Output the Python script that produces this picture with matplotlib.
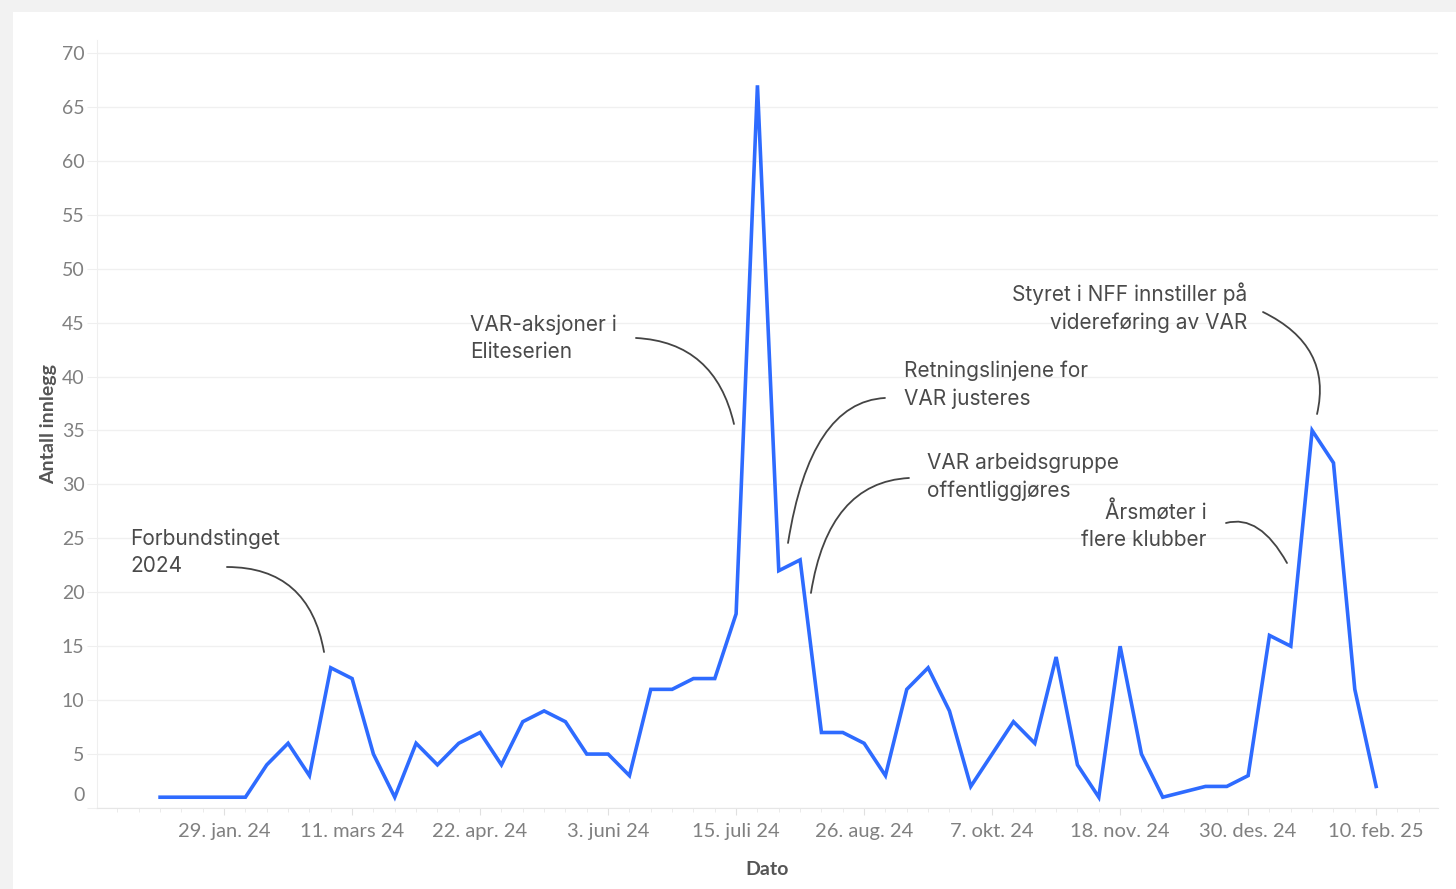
import numpy as np
import pandas as pd
import matplotlib
matplotlib.use('Agg')
import matplotlib.pyplot as plt
import matplotlib.dates as mdates
from matplotlib.patches import Rectangle
from matplotlib.transforms import ScaledTranslation

# ukentlige innlegg, uke 48 mangler (linja går rett over)
weeks = pd.date_range('2024-01-08', '2025-02-10', freq='7D')
posts = [1, 1, 1, 1, 1, 4, 6, 3, 13, 12,
         5, 1, 6, 4, 6, 7, 4, 8, 9, 8,
         5, 5, 3, 11, 11, 12, 12, 18, 67, 22,
         23, 7, 7, 6, 3, 11, 13, 9, 2, 5,
         8, 6, 14, 4, 1, 15, 5, 1, np.nan, 2,
         2, 3, 16, 15, 35, 32, 11, 2]

tick_dates = pd.date_range('2024-01-29', periods=10, freq='42D')
tick_labels = ['29. jan. 24', '11. mars 24', '22. apr. 24', '3. juni 24', '15. juli 24',
               '26. aug. 24', '7. okt. 24', '18. nov. 24', '30. des. 24', '10. feb. 25']

# (tekst, tekstpos, justering, linjestart, linjeslutt, connectionstyle)
notes = [
    ('Forbundstinget\n2024', (0.0246, 0.333), 'left', (0.0969, 0.3138), (0.1693, 0.2031), 'angle3,angleA=0,angleB=100'),
    ('VAR-aksjoner i\nEliteserien', (0.2781, 0.6113), 'left', (0.4019, 0.612), (0.4750, 0.50), 'angle3,angleA=-3,angleB=103'),
    ('Retningslinjene for\nVAR justeres', (0.6018, 0.5514), 'left', (0.5876, 0.5339), (0.5153, 0.3451), 'angle3,angleA=3,angleB=81'),
    ('VAR arbeidsgruppe\noffentliggjøres', (0.6189, 0.431), 'left', (0.6055, 0.4297), (0.5324, 0.28), 'angle3,angleA=3,angleB=81'),
    ('Styret i NFF innstiller på\nvidereføring av VAR', (0.8576, 0.651), 'right', (0.8695, 0.6458), (0.9098, 0.513), 'angle3,angleA=-26,angleB=77'),
    ('Årsmøter i\nflere klubber', (0.8277, 0.3685), 'right', (0.8419, 0.3711), (0.8874, 0.319), 'angle3,angleA=15,angleB=119'),
]

plt.rcParams['font.family'] = ['Lato', 'DejaVu Sans']

fig = plt.figure(figsize=(14.56, 8.89), dpi=100, facecolor='#f2f2f2')
fig.patches.append(Rectangle((13 / 1456, 0), 1, 1 - 12 / 889, transform=fig.transFigure,
                             facecolor='white', edgecolor='none', zorder=-10))
ax = fig.add_axes([97 / 1456, 81 / 889, 1341 / 1456, 768 / 889])
ax.set_facecolor('white')
ax.set_zorder(1)

s = pd.Series(posts, index=weeks).dropna()
ax.plot(s.index, s.values, color='#2e6bff', lw=2.6, solid_joinstyle='miter', zorder=3)

ax.set_xlim(weeks[0] - pd.Timedelta(days=20.7), weeks[-1] + pd.Timedelta(days=20.3))
ax.set_ylim(0, 71.2)

ax.set_yticks(range(0, 71, 5))
ax.set_xticks(tick_dates)
ax.set_xticklabels(tick_labels)
ax.xaxis.set_minor_locator(mdates.WeekdayLocator(byweekday=mdates.MO))

ax.grid(axis='y', color='#f0f0f0', lw=1)
ax.set_axisbelow(True)
for side in ['top', 'right']:
    ax.spines[side].set_visible(False)
ax.spines['left'].set_color('#efefef')
ax.spines['bottom'].set_color('#e6e6e6')

ax.tick_params(axis='y', length=7, color='#efefef', labelsize=14, labelcolor='#808080', pad=2)
ax.tick_params(axis='x', which='major', length=5, color='#e0e0e0', labelsize=14.5, labelcolor='#808080', pad=6)
ax.tick_params(axis='x', which='minor', length=3, color='#e8e8e8')
# nederste etikett flyttes litt opp, som i Tableau
lab0 = ax.get_yticklabels()[0]
lab0.set_transform(lab0.get_transform() + ScaledTranslation(0, 0.14, fig.dpi_scale_trans))

ax.set_xlabel('Dato', fontsize=14, color='#555555', fontweight='bold', labelpad=15)
ax.set_ylabel('Antall innlegg', fontsize=14, color='#555555', fontweight='bold', labelpad=3)

for txt, pos, ha, start, end, cs in notes:
    ax.text(pos[0], pos[1], txt, transform=ax.transAxes, ha=ha, va='center',
            fontsize=15, color='#4a4a4a', linespacing=1.45, family=['Inter', 'DejaVu Sans'])
    ax.annotate('', xy=end, xytext=start, xycoords='axes fraction', textcoords='axes fraction',
                arrowprops=dict(arrowstyle='-', color='#444444', lw=1.3, connectionstyle=cs,
                                shrinkA=0, shrinkB=0))

fig.savefig('out.png', dpi=100, facecolor=fig.get_facecolor())
